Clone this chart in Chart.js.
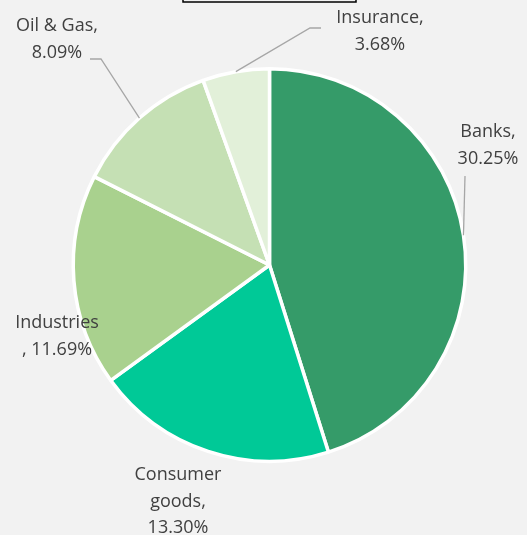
<!DOCTYPE html>
<html>
<head>
<meta charset="utf-8">
<script src="https://cdn.jsdelivr.net/npm/chart.js@4.4.0/dist/chart.umd.min.js"></script>
<style>
  html, body { margin: 0; padding: 0; background: #f2f2f2; }
  #wrap { width: 527px; height: 535px; position: relative; }
</style>
</head>
<body>
<div id="wrap"><canvas id="pieChart"></canvas></div>
<script>
const sectors = ['Banks', 'Consumer goods', 'Industries', 'Oil & Gas', 'Insurance'];
const shares = [30.25, 13.30, 11.69, 8.09, 3.68];
const shareLabels = ['30.25%', '13.30%', '11.69%', '8.09%', '3.68%'];
const sectorColors = ['#359b69', '#00c997', '#a9d18e', '#c5e0b4', '#e2f0d9'];

// Texto de cada etiqueta, por líneas
const labelLines = [
  ['Banks,', shareLabels[0]],
  ['Consumer', 'goods,', shareLabels[1]],
  ['Industries', ', ' + shareLabels[2]],
  ['Oil & Gas,', shareLabels[3]],
  ['Insurance,', shareLabels[4]]
];

// Plugin: etiquetas fuera del pastel con líneas guía
const outsideLabels = {
  id: 'outsideLabels',
  afterDraw(chart, args, opts) {
    const ctx = chart.ctx;
    const arcs = chart.getDatasetMeta(0).data;
    ctx.save();
    // recuadro del título, cortado arriba
    ctx.strokeStyle = '#000';
    ctx.lineWidth = 1.5;
    ctx.strokeRect(183, -10, 173, 12);

    ctx.font = opts.font;
    ctx.fillStyle = opts.color;
    ctx.textAlign = 'center';
    ctx.textBaseline = 'middle';
    opts.positions.forEach((p, i) => {
      const lines = labelLines[i];
      lines.forEach((t, k) => ctx.fillText(t, p.x, p.y + k * opts.lineHeight));

      if (p.leader) {
        const a = arcs[i];
        const mid = (a.startAngle + a.endAngle) / 2;
        const r = a.outerRadius;
        const ex = a.x + Math.cos(mid) * r;
        const ey = a.y + Math.sin(mid) * r;
        ctx.strokeStyle = '#a6a6a6';
        ctx.lineWidth = 1.3;
        ctx.beginPath();
        ctx.moveTo(ex, ey);
        p.leader.forEach(pt => ctx.lineTo(pt[0], pt[1]));
        ctx.stroke();
      }
    });
    ctx.restore();
  }
};

const chart = new Chart(document.getElementById('pieChart'), {
  type: 'pie',
  data: {
    labels: sectors,
    datasets: [{
      data: shares,
      backgroundColor: sectorColors,
      borderColor: '#ffffff',
      borderWidth: 3.5
    }]
  },
  options: {
    responsive: true,
    maintainAspectRatio: false,
    animation: false,
    layout: { padding: { left: 71.5, right: 59.5, top: 67, bottom: 72 } },
    plugins: {
      legend: { display: false },
      tooltip: { enabled: false },
      outsideLabels: {
        font: '18px "Open Sans"',
        color: '#404040',
        lineHeight: 26.5,
        positions: [
          { x: 488, y: 132, leader: [[465, 176]] },
          { x: 178, y: 475 },
          { x: 57, y: 323 },
          { x: 57, y: 26, leader: [[101, 59], [90, 59]] },
          { x: 380, y: 18, leader: [[310, 28], [321, 28]] }
        ]
      }
    }
  },
  plugins: [outsideLabels]
});
</script>
</body>
</html>
